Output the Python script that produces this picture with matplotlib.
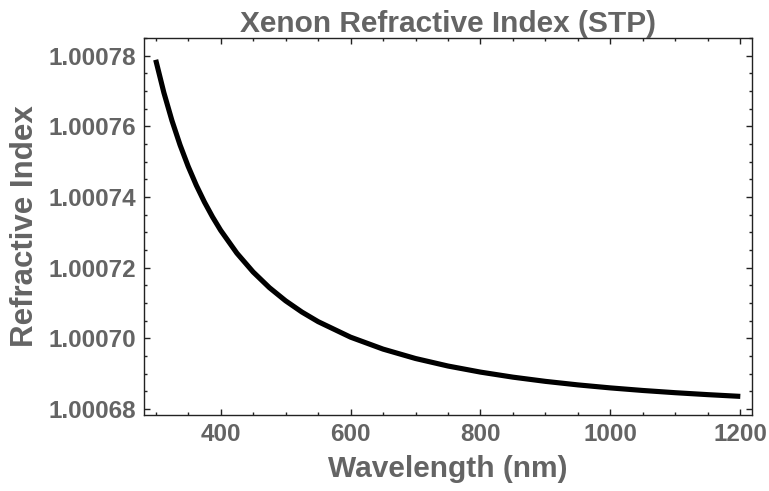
import matplotlib.pyplot as plt
from matplotlib.ticker import MultipleLocator, FormatStrFormatter

# wavelength in nm, refractive index of xenon at STP
wavelength = [300, 312.5, 325, 337.5, 350, 362.5, 375, 387.5, 400, 425, 450, 475,
              500, 525, 550, 600, 650, 700, 750, 800, 850, 900, 950, 1000,
              1050, 1100, 1150, 1200]
refractive_index = [1.00077883, 1.00076960, 1.00076164, 1.00075472, 1.00074866,
                    1.00074332, 1.00073858, 1.00073436, 1.00073057, 1.00072410,
                    1.00071878, 1.00071435, 1.00071062, 1.00070745, 1.00070473,
                    1.00070033, 1.00069695, 1.00069429, 1.00069216, 1.00069044,
                    1.00068901, 1.00068782, 1.00068682, 1.00068597, 1.00068524,
                    1.00068461, 1.00068406, 1.00068357]

title = "Xenon Refractive Index (STP)"
xlabel = "Wavelength (nm)"
ylabel = "Refractive Index"

grey = "#646464"
plt.rcParams['font.family'] = ['Liberation Sans', 'DejaVu Sans']
plt.rcParams['font.weight'] = 'bold'

fig = plt.figure(figsize=(7.69, 4.91), dpi=100)
ax = fig.add_axes([144/769, 1 - 415/491, (752-144)/769, (415-38)/491])

ax.plot(wavelength, refractive_index, color='black', lw=3.7,
        solid_capstyle='butt', solid_joinstyle='round')

ax.set_xlim(282, 1218)
ax.set_ylim(1.0006783, 1.000785)

ax.xaxis.set_major_locator(MultipleLocator(200))
ax.xaxis.set_minor_locator(MultipleLocator(50))
ax.yaxis.set_major_locator(MultipleLocator(0.00002))
ax.yaxis.set_minor_locator(MultipleLocator(0.000005))
ax.yaxis.set_major_formatter(FormatStrFormatter('%.5f'))

ax.tick_params(which='both', direction='in', top=True, right=True,
               color='#222222', width=1, labelsize=17.5, labelcolor=grey)
ax.tick_params(which='major', length=4, pad=6)
ax.tick_params(which='minor', length=2.2)
for s in ax.spines.values():
    s.set_color('#222222')
    s.set_linewidth(1)

ax.set_title(title, fontsize=21.5, color=grey, fontweight='bold', pad=4)
ax.set_xlabel(xlabel, fontsize=21.5, color=grey, fontweight='bold', labelpad=6)
ax.set_ylabel(ylabel, fontsize=22.5, color=grey, fontweight='bold', labelpad=6)

fig.savefig("out.png", dpi=100)
